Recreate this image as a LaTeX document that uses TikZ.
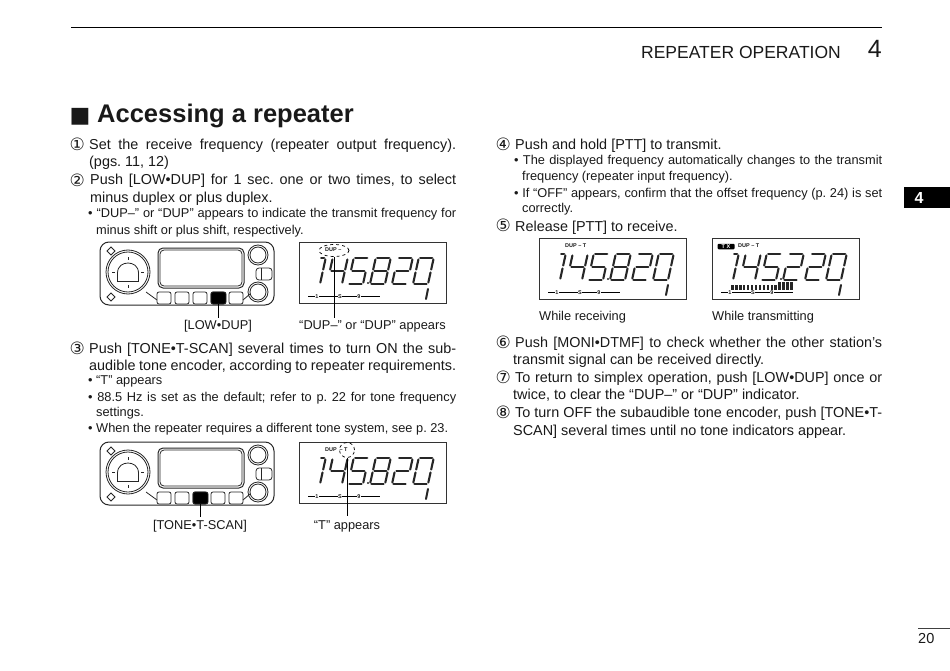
\documentclass[tikz,border=0pt]{standalone}
\usepackage{fontspec}
\setmainfont{Liberation Sans}
\newfontfamily\symfont{DejaVu Sans}
\usetikzlibrary{shapes.geometric}
\frenchspacing

\def\digitone{tf/tr, tr/mr, mr/br}
\def\digittwo{tl/tr, tr/mr, ml/mr, ml/bl, bl/br}
\def\digitfour{tl/ml, ml/mr, tr/mr, mr/br}
\def\digitfive{tl/tr, tl/ml, ml/mr, mr/br, bl/br}
\def\digiteight{tl/tr, tl/ml, tr/mr, ml/mr, ml/bl, mr/br, bl/br}
\def\digitzero{tl/tr, tl/ml, tr/mr, ml/bl, mr/br, bl/br}

\tikzset{
	every node/.style = {inner sep = 0, text = black!90},
	bodyline/.style = {anchor = base west, font = \fontsize{14.4}{16}\selectfont},
	noteline/.style = {anchor = base west, font = \fontsize{12.8}{14}\selectfont},
	caption/.style = {anchor = base, font = \fontsize{12.8}{14}\selectfont},
	numeral/.style = {anchor = base west, font = \symfont\fontsize{17}{18}\selectfont},
	lcdtiny/.style = {font = \bfseries\fontsize{5.5}{6}\selectfont},
	lcdseg/.style = {line width = 2.1, line cap = round, shorten > = 1.5, shorten < = 1.5, black!85},
	device/.style = {line width = .8, black!85},
	leader/.style = {line width = .9, black},
	pics/lcddigit/.style = {code = {
		\begin{scope}[xslant = .22]
			\coordinate (tf) at (9, -26) ;
			\coordinate (tl) at (0, -26) ;
			\coordinate (tr) at (15, -26) ;
			\coordinate (ml) at (0, -13) ;
			\coordinate (mr) at (15, -13) ;
			\coordinate (bl) at (0, 0) ;
			\coordinate (br) at (15, 0) ;
			\foreach \a/\b in #1
				\draw [lcdseg] (\a) -- (\b) ;
		\end{scope}
	}}
}

% left, top, fourth digit, status text, prefix of the names
\newcommand{\lcdpanel}[5]{
	\begin{scope}[shift = {(#1, #2)}]
		\draw [line width = .9, black!80] (0, 0) rectangle (147, 61.5) ;
		\node [lcdtiny, anchor = west] (#5status) at (26, 8) {#4} ;
		\pic at (6, 42) {lcddigit = \digitone} ;
		\pic at (28, 42) {lcddigit = \digitfour} ;
		\pic at (49, 42) {lcddigit = \digitfive} ;
		\fill [black!85] (69, 41) circle [radius = 1.2] ;
		\pic at (71, 42) {lcddigit = #3} ;
		\pic at (93, 42) {lcddigit = \digittwo} ;
		\pic at (114, 42) {lcddigit = \digitzero} ;
		\draw [line width = 2, black!85, line cap = round] (127, 57) -- (129, 47) ;
		\draw [line width = .7] (9, 54.5) -- (81, 54.5) ;
		\node [lcdtiny, fill = white] (#5one) at (18, 54.5) {1} ;
		\node [lcdtiny, fill = white] (#5ess) at (41, 54.5) {S} ;
		\node [lcdtiny, fill = white] (#5nine) at (60, 54.5) {9} ;
	\end{scope}
}

% top, left of the dark key
\newcommand{\radiopanel}[2]{
	\begin{scope}[shift = {(100, #1)}, device]
		\draw [rounded corners = 9, line width = 1] (0, 0) rectangle (174, 63) ;
		\draw (7, 9) -- (11, 5) -- (15, 9) -- (11, 13) -- cycle ;
		\draw (7, 55) -- (11, 51) -- (15, 55) -- (11, 59) -- cycle ;
		\draw [fill = white] (28, 30) circle [radius = 22] ;
		\draw (28, 30) circle [radius = 20] ;
		\draw (17.5, 39.5) -- (38.5, 39.5) -- (38.5, 31) .. controls (38.5, 24) and (33, 21) .. (28, 21)
			.. controls (23, 21) and (17.5, 24) .. (17.5, 31) -- cycle ;
		\draw (28, 15) -- (28, 18) (28, 43) -- (28, 46) (12, 30) -- (15, 30) (41, 30) -- (44, 30) ;
		\draw [rounded corners = 5, line width = 1] (58, 6) rectangle (144, 46) ;
		\draw [rounded corners = 4] (60, 8) rectangle (142, 44) ;
		\draw (158, 13) circle [radius = 10] (158, 13) circle [radius = 8] ;
		\draw (158, 50) circle [radius = 10] (158, 50) circle [radius = 8] ;
		\draw [rounded corners = 3] (156, 26) rectangle (172, 38) ;
		\draw (161, 26) -- (161, 38) ;
		\draw (46, 50) -- (57, 58) (143, 58) -- (150, 52) ;
		\foreach \xkey in {57, 75, 93, 111, 129}
			\draw [rounded corners = 2] (\xkey, 50) rectangle ++(14, 12) ;
		\draw [rounded corners = 2, fill = black] (#2, 50) rectangle ++(15, 12) ;
	\end{scope}
}

\newcommand{\just}[1]{\makebox[367pt][s]{#1}}
\newcommand{\justnote}[1]{\makebox[368pt][s]{#1}}

\begin{document}
\begin{tikzpicture}[x = 1pt, y = -1pt]
	\useasboundingbox (0, 0) rectangle (950, 671) ;

	\draw [line width = 1.3] (71, 27.5) -- (882, 27.5) ;
	\node [anchor = base east, font = \fontsize{17.5}{20}\selectfont] (chapter) at (841, 59) {REPEATER OPERATION} ;
	\node [anchor = base east, font = \fontsize{25}{26}\selectfont] (chapternum) at (882, 58) {4} ;
	\node [fill = black, anchor = north west, minimum width = 46, minimum height = 21] (tab) at (904, 187) {} ;
	\node [font = \bfseries\fontsize{16}{18}\selectfont, text = white] (tabnum) at (919, 198) {4} ;
	\draw [line width = .9, black!75] (918, 628) -- (950, 628) ;
	\node [anchor = base west, font = \fontsize{14.5}{16}\selectfont] (pagenum) at (918, 643) {20} ;

	\node [anchor = base west, font = \symfont\fontsize{22}{24}\selectfont] (titlemark) at (69.5, 122.5) {■} ;
	\node [anchor = base west, font = \bfseries\fontsize{25.5}{28}\selectfont] (title) at (97, 123) {Accessing a repeater} ;

	% left column
	\node [numeral] (numone) at (69.5, 151) {①} ;
	\node [bodyline] (stepone) at (89, 150) {\just{Set the receive frequency (repeater output frequency).}} ;
	\node [bodyline] (steponeb) at (89, 167) {(pgs. 11, 12)} ;
	\node [numeral] (numtwo) at (69.5, 186) {②} ;
	\node [bodyline] (steptwo) at (90, 185) {\makebox[366pt][s]{Push [LOW•DUP] for 1 sec. one or two times, to select}} ;
	\node [bodyline] (steptwob) at (90, 203) {minus duplex or plus duplex.} ;
	\node [noteline] (notedup) at (88, 218) {\justnote{• “DUP–” or “DUP” appears to indicate the transmit frequency for}} ;
	\node [noteline] (notedupb) at (96, 234) {minus shift or plus shift, respectively.} ;

	\radiopanel{242}{111}
	\lcdpanel{299}{242}{\digiteight}{DUP –}{dup}
	\coordinate (lowkey) at (218, 304) ;
	\node [caption] (lowlabel) at (218, 329) {[LOW•DUP]} ;
	\draw [leader, shorten > = 1.5] (lowkey) -- (lowlabel) ;
	\node [draw, dashed, ellipse, line width = .7, minimum width = 30, minimum height = 12] (dupring) at (334, 250.5) {} ;
	\node [caption] (duplabel) at (372.5, 329) {“DUP–” or “DUP” appears} ;
	\coordinate (dupend) at (334, 318) ;
	\draw [leader] (dupring) -- (dupend) ;

	\node [numeral] (numthree) at (69.5, 354) {③} ;
	\node [bodyline] (stepthree) at (89, 353) {\just{Push [TONE•T-SCAN] several times to turn ON the sub-}} ;
	\node [bodyline] (stepthreeb) at (89, 370) {\just{audible tone encoder, according to repeater requirements.}} ;
	\node [noteline] (notet) at (88, 384) {• “T” appears} ;
	\node [noteline] (notehz) at (88, 401) {\justnote{• 88.5 Hz is set as the default; refer to p. 22 for tone frequency}} ;
	\node [noteline] (notehzb) at (96, 416) {settings.} ;
	\node [noteline] (notetone) at (88, 432) {• When the repeater requires a different tone system, see p. 23.} ;

	\radiopanel{442}{93}
	\lcdpanel{299}{442}{\digiteight}{DUP\,\,\,– T}{tone}
	\coordinate (tonekey) at (200, 504) ;
	\node [caption] (tonelabel) at (200, 529) {[TONE•T-SCAN]} ;
	\draw [leader, shorten > = 3] (tonekey) -- (tonelabel) ;
	\node [draw, dashed, circle, line width = .7, minimum size = 15] (tring) at (347, 450) {} ;
	\node [caption] (tvalue) at (347, 529) {“T” appears} ;
	\coordinate (tend) at (347, 516) ;
	\draw [leader] (tring) -- (tend) ;

	% right column
	\node [numeral] (numfour) at (495.5, 151) {④} ;
	\node [bodyline] (stepfour) at (515, 150) {Push and hold [PTT] to transmit.} ;
	\node [noteline] (noteshift) at (514, 165) {\justnote{• The displayed frequency automatically changes to the transmit}} ;
	\node [noteline] (noteshiftb) at (522, 181) {frequency (repeater input frequency).} ;
	\node [noteline] (noteoff) at (514, 197) {\justnote{• If “OFF” appears, confirm that the offset frequency (p. 24) is set}} ;
	\node [noteline] (noteoffb) at (522, 213) {correctly.} ;
	\node [numeral] (numfive) at (495.5, 232) {⑤} ;
	\node [bodyline] (stepfive) at (515, 231) {Release [PTT] to receive.} ;

	\lcdpanel{539}{238}{\digiteight}{DUP – T}{rx}
	\lcdpanel{712}{238}{\digittwo}{DUP – T}{tx}
	\node [fill = black, rounded corners = 1, minimum width = 17, minimum height = 5.5, text = white, lcdtiny] (txflag) at (726, 246.5) {T X} ;
	\foreach \n in {0, ..., 15} {
		\pgfmathsetmacro\xbar{731 + \n * 3.95}
		\pgfmathsetmacro\hbar{\n > 11 ? 8 : 5}
		\fill [black!85] (\xbar, 290) rectangle ++(2.6, -\hbar) ;
	}
	\node [noteline] (rxlabel) at (539, 320) {While receiving} ;
	\node [noteline] (txlabel) at (712, 320) {While transmitting} ;

	\node [numeral] (numsix) at (495.5, 348) {⑥} ;
	\node [bodyline] (stepsix) at (515, 347) {\makebox[367pt][s]{Push [MONI•DTMF] to check whether the other station’s}} ;
	\node [bodyline] (stepsixb) at (513, 364) {transmit signal can be received directly.} ;
	\node [numeral] (numseven) at (495.5, 383) {⑦} ;
	\node [bodyline] (stepseven) at (515, 382) {\makebox[367pt][s]{To return to simplex operation, push [LOW•DUP] once or}} ;
	\node [bodyline] (stepsevenb) at (513, 399) {twice, to clear the “DUP–” or “DUP” indicator.} ;
	\node [numeral] (numeight) at (495.5, 418) {⑧} ;
	\node [bodyline] (stepeight) at (515, 417) {\makebox[367pt][s]{To turn OFF the subaudible tone encoder, push [TONE•T-}} ;
	\node [bodyline] (stepeightb) at (513, 435) {SCAN] several times until no tone indicators appear.} ;
\end{tikzpicture}
\end{document}
